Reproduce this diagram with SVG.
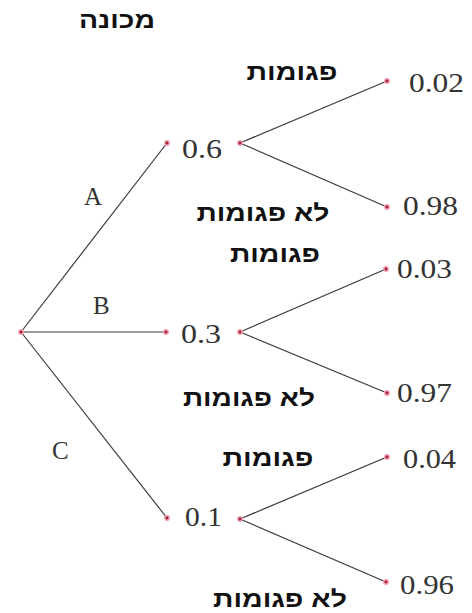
<svg xmlns="http://www.w3.org/2000/svg" width="472" height="613" viewBox="0 0 472 613">
<style>
.e{stroke:#3a3a3a;stroke-width:1.2;fill:none}
.d{fill:#a0203a;stroke:#f2a0b0;stroke-width:1.5}
.n{font-family:"Liberation Serif","Times New Roman",serif;font-size:28px;fill:#333}
.l{font-family:"Liberation Serif","Times New Roman",serif;font-size:25px;fill:#333}
.h{font-family:"Liberation Sans",Arial,"DejaVu Sans",sans-serif;font-size:23px;font-weight:bold;fill:#111;text-anchor:middle}
</style>
<rect width="472" height="613" fill="#fff"/>
<g id="connectors">
<line class="e" x1="21" y1="332" x2="167" y2="143"/>
<line class="e" x1="21" y1="332" x2="166" y2="332"/>
<line class="e" x1="21" y1="332" x2="167" y2="518"/>
<line class="e" x1="240" y1="143" x2="387" y2="81"/>
<line class="e" x1="240" y1="143" x2="387" y2="207"/>
<line class="e" x1="240" y1="332" x2="386" y2="269"/>
<line class="e" x1="240" y1="332" x2="387" y2="393"/>
<line class="e" x1="240" y1="519" x2="387" y2="457"/>
<line class="e" x1="240" y1="519" x2="386" y2="582"/>
</g>
<g id="title"><text class="h" x="117" y="28" textLength="76" lengthAdjust="spacingAndGlyphs">מכונה</text></g>
<g id="root"><circle class="d" cx="21" cy="332" r="2.2"/></g>
<g id="labelA"><text class="l" x="84" y="205">A</text></g>
<g id="labelB"><text class="l" x="93" y="314">B</text></g>
<g id="labelC"><text class="l" x="52" y="459">C</text></g>
<g id="nodeA"><circle class="d" cx="167" cy="143" r="2.2"/><text class="n" x="182" y="158" textLength="40" lengthAdjust="spacingAndGlyphs">0.6</text><circle class="d" cx="240" cy="143" r="2.2"/></g>
<g id="nodeB"><circle class="d" cx="166" cy="332" r="2.2"/><text class="n" x="181" y="343" textLength="40" lengthAdjust="spacingAndGlyphs">0.3</text><circle class="d" cx="240" cy="332" r="2.2"/></g>
<g id="nodeC"><circle class="d" cx="167" cy="518" r="2.2"/><text class="n" x="185" y="526" textLength="37" lengthAdjust="spacingAndGlyphs">0.1</text><circle class="d" cx="240" cy="519" r="2.2"/></g>
<g id="A1"><circle class="d" cx="387" cy="81" r="2.2"/><text class="n" x="409" y="92" textLength="55" lengthAdjust="spacingAndGlyphs">0.02</text><text class="h" x="292" y="80" textLength="91" lengthAdjust="spacingAndGlyphs">פגומות</text></g>
<g id="A2"><circle class="d" cx="387" cy="207" r="2.2"/><text class="n" x="403" y="215" textLength="55" lengthAdjust="spacingAndGlyphs">0.98</text><text class="h" x="263" y="221" textLength="133" lengthAdjust="spacingAndGlyphs">לא פגומות</text></g>
<g id="B1"><circle class="d" cx="386" cy="269" r="2.2"/><text class="n" x="397" y="278" textLength="55" lengthAdjust="spacingAndGlyphs">0.03</text><text class="h" x="275" y="262" textLength="90" lengthAdjust="spacingAndGlyphs">פגומות</text></g>
<g id="B2"><circle class="d" cx="387" cy="393" r="2.2"/><text class="n" x="397" y="402" textLength="55" lengthAdjust="spacingAndGlyphs">0.97</text><text class="h" x="249" y="406" textLength="132" lengthAdjust="spacingAndGlyphs">לא פגומות</text></g>
<g id="C1"><circle class="d" cx="387" cy="457" r="2.2"/><text class="n" x="403" y="468" textLength="53" lengthAdjust="spacingAndGlyphs">0.04</text><text class="h" x="268" y="466" textLength="91" lengthAdjust="spacingAndGlyphs">פגומות</text></g>
<g id="C2"><circle class="d" cx="386" cy="582" r="2.2"/><text class="n" x="400" y="594" textLength="54" lengthAdjust="spacingAndGlyphs">0.96</text><text class="h" x="280" y="607" textLength="134" lengthAdjust="spacingAndGlyphs">לא פגומות</text></g>
</svg>
